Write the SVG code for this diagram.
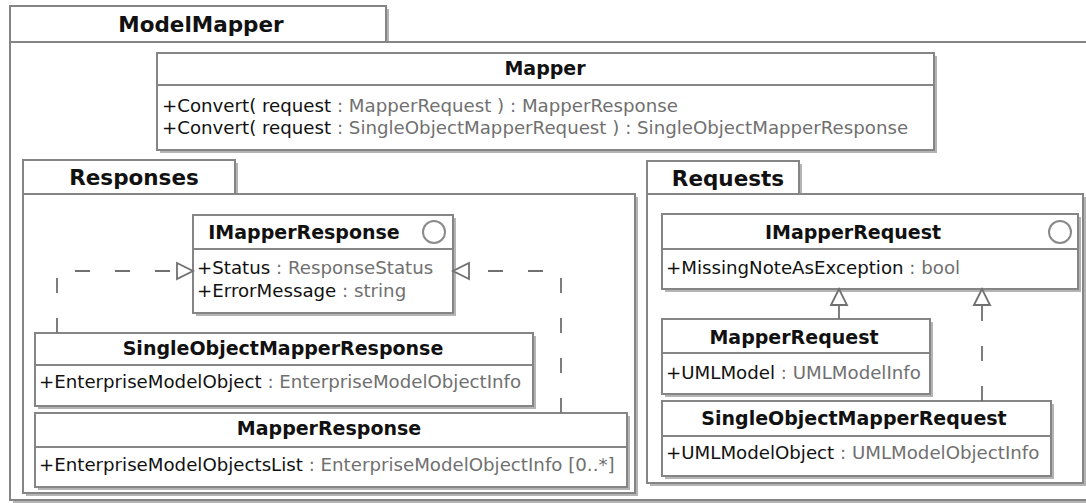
<svg xmlns="http://www.w3.org/2000/svg" width="1086" height="503" viewBox="0 0 1086 503">
<style>
.bg{fill:#ffffff}
.sh{fill:#b4b4b4}
.box{fill:#ffffff;stroke:#858585;stroke-width:2}
.sep{stroke:#858585;stroke-width:2}
.ptitle{font-family:"DejaVu Sans",sans-serif;font-weight:bold;font-size:21.5px;fill:#111;text-anchor:middle}
.title{font-family:"DejaVu Sans",sans-serif;font-weight:bold;font-size:19px;fill:#111;text-anchor:middle}
.attr{font-family:"DejaVu Sans",sans-serif;font-size:18.2px;fill:#111}
.ty{fill:#707070}
.icon{fill:none;stroke:#8a8a8a;stroke-width:2}
.conn{fill:none;stroke:#707070;stroke-width:1.8}
.dash{stroke-dasharray:15 25}
</style>
<defs>
<marker id="tri" markerUnits="userSpaceOnUse" markerWidth="20" markerHeight="20" refX="16" refY="8" orient="auto" overflow="visible">
<path d="M0,0 L16,8 L0,16 Z" fill="#ffffff" stroke="#707070" stroke-width="1.8" stroke-dasharray="none"/>
</marker>
</defs>
<rect class="bg" x="0" y="0" width="1086" height="503"/>

<g id="pkg-ModelMapper">
<rect class="sh" x="13" y="9" width="376" height="36"/>
<rect class="box" x="10" y="6" width="376" height="36"/>
<rect class="sh" x="13" y="45" width="1090" height="458"/>
<rect class="box" x="10" y="42" width="1090" height="458"/>
<text class="ptitle" x="201" y="32">ModelMapper</text>
</g>

<g id="Mapper">
<rect class="sh" x="160" y="56" width="777" height="97"/>
<rect class="box" x="157" y="53" width="777" height="97"/>
<line class="sep" x1="157" y1="85" x2="934" y2="85"/>
<text class="title" x="545" y="75">Mapper</text>
<text class="attr" x="162" y="112">+Convert( request <tspan class="ty">: MapperRequest ) : MapperResponse</tspan></text>
<text class="attr" x="162" y="134">+Convert( request <tspan class="ty">: SingleObjectMapperRequest ) : SingleObjectMapperResponse</tspan></text>
</g>

<g id="pkg-Responses">
<rect class="sh" x="26" y="163" width="212" height="34"/>
<rect class="box" x="23" y="160" width="212" height="34"/>
<rect class="sh" x="26" y="197" width="612" height="299"/>
<rect class="box" x="23" y="194" width="612" height="299"/>
<text class="ptitle" x="134" y="185">Responses</text>
</g>

<g id="pkg-Requests">
<rect class="sh" x="650" y="164" width="152" height="33"/>
<rect class="box" x="647" y="161" width="152" height="33"/>
<rect class="sh" x="650" y="197" width="436" height="289"/>
<rect class="box" x="647" y="194" width="436" height="289"/>
<text class="ptitle" x="728" y="186">Requests</text>
</g>

<g id="IMapperResponse">
<rect class="sh" x="196" y="218" width="260" height="98"/>
<rect class="box" x="193" y="215" width="260" height="98"/>
<line class="sep" x1="193" y1="249" x2="453" y2="249"/>
<text class="title" x="304" y="239">IMapperResponse</text>
<circle class="icon" cx="434" cy="232" r="11"/>
<text class="attr" x="197" y="274">+Status <tspan class="ty">: ResponseStatus</tspan></text>
<text class="attr" x="197" y="297">+ErrorMessage <tspan class="ty">: string</tspan></text>
</g>

<g id="SingleObjectMapperResponse">
<rect class="sh" x="38" y="336" width="498" height="73"/>
<rect class="box" x="35" y="333" width="498" height="73"/>
<line class="sep" x1="35" y1="365" x2="533" y2="365"/>
<text class="title" x="283" y="355">SingleObjectMapperResponse</text>
<text class="attr" x="39" y="388">+EnterpriseModelObject <tspan class="ty">: EnterpriseModelObjectInfo</tspan></text>
</g>

<g id="MapperResponse">
<rect class="sh" x="38" y="416" width="592" height="74"/>
<rect class="box" x="35" y="413" width="592" height="74"/>
<line class="sep" x1="35" y1="447" x2="627" y2="447"/>
<text class="title" x="329" y="435">MapperResponse</text>
<text class="attr" x="39" y="471">+EnterpriseModelObjectsList <tspan class="ty">: EnterpriseModelObjectInfo [0..*]</tspan></text>
</g>

<g id="IMapperRequest">
<rect class="sh" x="665" y="217" width="416" height="75"/>
<rect class="box" x="662" y="214" width="416" height="75"/>
<line class="sep" x1="662" y1="249" x2="1078" y2="249"/>
<text class="title" x="853" y="239">IMapperRequest</text>
<circle class="icon" cx="1060" cy="232" r="11"/>
<text class="attr" x="666" y="274">+MissingNoteAsException <tspan class="ty">: bool</tspan></text>
</g>

<g id="MapperRequest">
<rect class="sh" x="665" y="322" width="268" height="75"/>
<rect class="box" x="662" y="319" width="268" height="75"/>
<line class="sep" x1="662" y1="353" x2="930" y2="353"/>
<text class="title" x="794" y="344">MapperRequest</text>
<text class="attr" x="666" y="379">+UMLModel <tspan class="ty">: UMLModelInfo</tspan></text>
</g>

<g id="SingleObjectMapperRequest">
<rect class="sh" x="665" y="404" width="389" height="75"/>
<rect class="box" x="662" y="401" width="389" height="75"/>
<line class="sep" x1="662" y1="436" x2="1051" y2="436"/>
<text class="title" x="854" y="425">SingleObjectMapperRequest</text>
<text class="attr" x="666" y="459">+UMLModelObject <tspan class="ty">: UMLModelObjectInfo</tspan></text>
</g>

<g id="connectors">
<path class="conn dash" d="M57,333 V271 H193" marker-end="url(#tri)"/>
<path class="conn dash" d="M561,413 V271 H453" marker-end="url(#tri)"/>
<path class="conn" d="M839,319 V289" marker-end="url(#tri)"/>
<path class="conn dash" d="M982,401 V289" marker-end="url(#tri)"/>
</g>
</svg>
